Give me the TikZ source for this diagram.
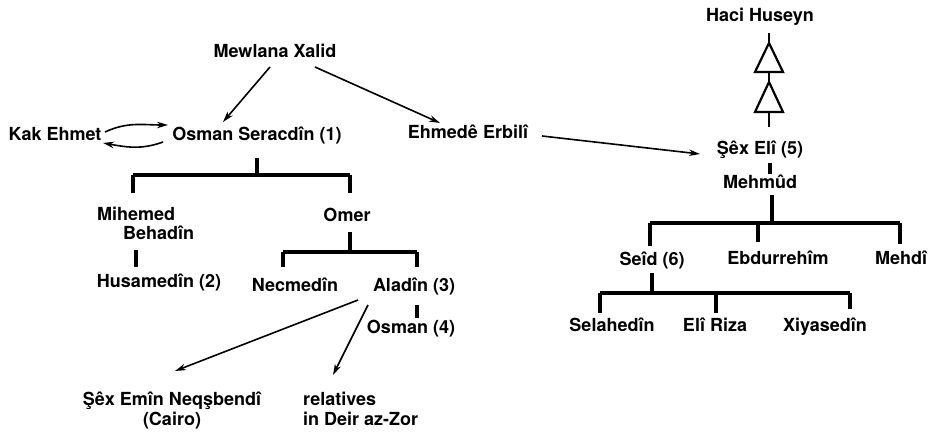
\documentclass[tikz,border=0pt]{standalone}
\usepackage{fontspec}
\setmainfont{TeX Gyre Heros}
\usetikzlibrary{arrows.meta}
\begin{document}
\begin{tikzpicture}[x=1pt,y=-1pt,
  lbl/.style={inner sep=0pt,text height=13pt,text depth=0pt,font=\fontsize{18}{21}\selectfont\bfseries},
  mlbl/.style={inner sep=0pt,font=\fontsize{18}{21}\selectfont\bfseries},
  tree/.style={line width=3.2pt},
  arr/.style={line width=1.6pt,-{Stealth[length=11pt,width=6.5pt]}},
  chain/.style={line width=2.2pt,line join=miter}]
\useasboundingbox[fill=white] (0,0) rectangle (937,435);
% nodes
\node[lbl] (xalid) at (275,51) {Mewlana Xalid};
\node[lbl] (kak) at (55,134) {Kak Ehmet};
\node[lbl] (osman) at (257,134) {Osman Seracdîn (1)};
\node[lbl] (erbili) at (468,132) {Ehmedê Erbilî};
\node[mlbl,align=left,anchor=west] (mihemed) at (97,223.5) {Mihemed\\[-2pt]\hspace*{26pt}Behadîn};
\node[lbl] (husamedin) at (159,281) {Husamedîn (2)};
\node[lbl] (omer) at (347,215) {Omer};
\node[lbl] (necmedin) at (295,285) {Necmedîn};
\node[lbl] (aladin) at (414,285) {Aladîn (3)};
\node[lbl] (osman4) at (411,327) {Osman (4)};
\node[mlbl,align=center] (emin) at (172,411) {Şêx Emîn Neqşbendî\\[-1pt](Cairo)};
\node[mlbl,align=left,anchor=west] (relatives) at (303,409) {relatives\\[-1pt]in Deir az-Zor};
\node[lbl] (haci) at (760,15) {Haci Huseyn};
\node[lbl] (sexeli) at (760,148) {Şêx Elî (5)};
\node[lbl] (mehmud) at (760,182) {Mehmûd};
\node[lbl] (seid) at (652,259) {Seîd (6)};
\node[lbl] (ebdurrehim) at (778,258) {Ebdurrehîm};
\node[lbl] (mehdi) at (901,258) {Mehdî};
\node[lbl] (selahedin) at (612,325) {Selahedîn};
\node[lbl] (eliriza) at (715,325) {Elî Riza};
\node[lbl] (xiyasedin) at (825,325) {Xiyasedîn};
% arrows from Mewlana Xalid
\draw[arr] ([shift={(-5,16)}]xalid.center) -- ([shift={(-34,-12)}]osman.center);
\draw[arr] ([shift={(40,16)}]xalid.center) -- ([shift={(-28,-9)}]erbili.center);
% Kak Ehmet <-> Osman
\draw[arr] ([shift={(50,-2)}]kak.center) to[out=25,in=180] ([shift={(-89,-9)}]osman.center);
\draw[arr] ([shift={(-94,8)}]osman.center) to[out=200,in=-10] ([shift={(48,9)}]kak.center);
% Erbili -> Sex Eli
\draw[arr] ([shift={(74,4)}]erbili.center) -- ([shift={(-60,6)}]sexeli.center);
% Osman tree
\draw[tree] ([shift={(0,24)}]osman.center) -- ([shift={(0,41)}]osman.center);
\draw[tree] (133,175) -- (350,175);
\draw[tree] (133,175) -- (133,193);
\draw[tree] (350,175) -- (350,193);
\draw[tree] ([shift={(-23,-31)}]husamedin.center) -- ([shift={(-23,-14)}]husamedin.center);
% Omer tree
\draw[tree] ([shift={(3,17)}]omer.center) -- ([shift={(3,37)}]omer.center);
\draw[tree] (283,252) -- (417,252);
\draw[tree] (283,252) -- (283,267);
\draw[tree] (417,252) -- (417,267);
\draw[tree] ([shift={(3,20)}]aladin.center) -- ([shift={(3,33)}]aladin.center);
% Aladin arrows
\draw[arr] ([shift={(-56,15)}]aladin.center) -- ([shift={(3,-40)}]emin.center);
\draw[arr] ([shift={(-46,20)}]aladin.center) -- ([shift={(30,-34)}]relatives.west);
% Haci Huseyn chain
\draw[chain] (769,33) -- (769,43);
\draw[chain] (769,43) -- (755,72) -- (783,72) -- cycle;
\draw[chain] (769,72) -- (769,82);
\draw[chain] (769,82) -- (755,112) -- (783,112) -- cycle;
\draw[chain] (769,112) -- (769,127);
% Sex Eli - Mehmud
\draw[tree] ([shift={(10,15)}]sexeli.center) -- ([shift={(10,26)}]sexeli.center);
% Mehmud tree
\draw[tree] ([shift={(12,13)}]mehmud.center) -- ([shift={(12,41)}]mehmud.center);
\draw[tree] (650,223) -- (900,223);
\draw[tree] (650,223) -- (650,246);
\draw[tree] (758,223) -- (758,242);
\draw[tree] (900,223) -- (900,244);
% Seid tree
\draw[tree] ([shift={(0,14)}]seid.center) -- ([shift={(0,34)}]seid.center);
\draw[tree] (600,293) -- (850,293);
\draw[tree] (600,293) -- (600,313);
\draw[tree] (716,293) -- (716,313);
\draw[tree] (850,293) -- (850,309);
\end{tikzpicture}
\end{document}
